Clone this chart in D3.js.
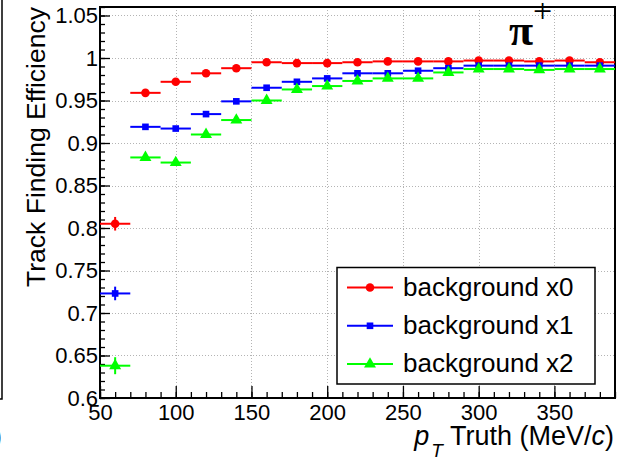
<!DOCTYPE html>
<html>
<head>
<meta charset="utf-8">
<script src="https://cdn.jsdelivr.net/npm/d3@7"></script>
<style>
  html, body { margin: 0; padding: 0; background: #fff; }
  svg { display: block; }
  text { font-family: "Liberation Sans", Arial, Helvetica, sans-serif; fill: #000; }
</style>
</head>
<body>
<svg id="chart" width="621" height="460"></svg>
<script>
// pT bins (MeV/c): centres and full bin width
const ptCenters = [60, 80, 100, 120, 140, 160, 180, 200, 220, 240, 260, 280, 300, 320, 340, 360, 380];
const ptBinWidth = 20;

// Track finding efficiency per bin for each background level
const effBkg0 = [0.805, 0.959, 0.972, 0.982, 0.988, 0.995, 0.994, 0.994, 0.995, 0.996, 0.996, 0.996, 0.997, 0.997, 0.996, 0.997, 0.995];
const effBkg1 = [0.723, 0.919, 0.917, 0.934, 0.949, 0.965, 0.972, 0.976, 0.982, 0.982, 0.985, 0.988, 0.991, 0.991, 0.991, 0.991, 0.991];
const effBkg2 = [0.638, 0.883, 0.877, 0.910, 0.927, 0.950, 0.963, 0.967, 0.973, 0.976, 0.976, 0.983, 0.987, 0.987, 0.986, 0.987, 0.987];

// Statistical uncertainties on the efficiencies
const errBkg0 = [0.008, 0.003, 0.0025, 0.002, 0.0015, 0.001, 0.001, 0.001, 0.001, 0.001, 0.001, 0.001, 0.001, 0.001, 0.001, 0.001, 0.001];
const errBkg1 = [0.008, 0.003, 0.003, 0.0025, 0.002, 0.0015, 0.0015, 0.0015, 0.001, 0.001, 0.001, 0.001, 0.001, 0.001, 0.001, 0.001, 0.001];
const errBkg2 = [0.010, 0.004, 0.004, 0.003, 0.003, 0.002, 0.002, 0.0015, 0.0015, 0.0015, 0.0015, 0.001, 0.001, 0.001, 0.001, 0.001, 0.001];

const seriesNames = ["background x0", "background x1", "background x2"];

// Axis ticks
const xTickValues = [50, 100, 150, 200, 250, 300, 350];
const yTickValues = [0.6, 0.65, 0.7, 0.75, 0.8, 0.85, 0.9, 0.95, 1.0, 1.05];
const yTickLabels = ["0.6", "0.65", "0.7", "0.75", "0.8", "0.85", "0.9", "0.95", "1", "1.05"];

const xDomain = [50, 390];
const yDomain = [0.6, 1.06];

const series = [
  { name: seriesNames[0], eff: effBkg0, err: errBkg0, color: "#ff0000", symbol: d3.symbolCircle, size: 58 },
  { name: seriesNames[1], eff: effBkg1, err: errBkg1, color: "#0000ff", symbol: d3.symbolSquare, size: 44 },
  { name: seriesNames[2], eff: effBkg2, err: errBkg2, color: "#00ff00", symbol: d3.symbolTriangle, size: 62 }
];

const svg = d3.select("#chart");
const frame = { left: 100, right: 615, top: 7, bottom: 398 };

const x = d3.scaleLinear().domain(xDomain).range([frame.left, frame.right]);
const y = d3.scaleLinear().domain(yDomain).range([frame.bottom, frame.top]);

svg.append("rect").attr("width", 621).attr("height", 460).attr("fill", "#fff");

// edge of the neighbouring pad on the left
svg.append("path")
  .attr("d", `M2,0 V399 H0`)
  .attr("fill", "none").attr("stroke", "#000").attr("stroke-width", 1.5);
svg.append("text").attr("x", -7).attr("y", 445)
  .style("font-size", "27px").text(")");

// dotted grid
const grid = svg.append("g").attr("stroke", "#b4b4b4").attr("stroke-width", 1).attr("stroke-dasharray", "1,2");
grid.selectAll("line.gx").data(xTickValues.filter(v => v > xDomain[0]))
  .join("line").attr("class", "gx")
  .attr("x1", d => Math.round(x(d)) + 0.5).attr("x2", d => Math.round(x(d)) + 0.5)
  .attr("y1", frame.top).attr("y2", frame.bottom);
grid.selectAll("line.gy").data(yTickValues.filter(v => v > yDomain[0]))
  .join("line").attr("class", "gy")
  .attr("x1", frame.left).attr("x2", frame.right)
  .attr("y1", d => Math.round(y(d)) + 0.5).attr("y2", d => Math.round(y(d)) + 0.5);

// minor ticks
const xMinor = d3.range(50, 391, 10);
const yMinor = d3.range(0, 47).map(i => 0.6 + i * 0.01);

svg.append("g").attr("transform", `translate(0,${frame.bottom})`)
  .call(d3.axisBottom(x).tickValues(xMinor).tickFormat("").tickSizeInner(-6).tickSizeOuter(0))
  .call(g => g.select(".domain").remove())
  .call(g => g.selectAll("line").attr("stroke-width", 1.3));
svg.append("g").attr("transform", `translate(${frame.left},0)`)
  .call(d3.axisLeft(y).tickValues(yMinor).tickFormat("").tickSizeInner(-5).tickSizeOuter(0))
  .call(g => g.select(".domain").remove())
  .call(g => g.selectAll("line").attr("stroke-width", 1.3));

// major ticks with labels
svg.append("g").attr("transform", `translate(0,${frame.bottom})`)
  .call(d3.axisBottom(x).tickValues(xTickValues).tickFormat(d3.format("d")).tickSizeInner(-12).tickSizeOuter(0).tickPadding(6))
  .call(g => g.select(".domain").remove())
  .call(g => g.selectAll("line").attr("stroke-width", 1.3))
  .call(g => g.selectAll("text").attr("fill", "#000").style("font-size", "22px")
    .style("font-family", '"Liberation Sans", Arial, sans-serif'));

svg.append("g").attr("transform", `translate(${frame.left},0)`)
  .call(d3.axisLeft(y).tickValues(yTickValues).tickFormat((d, i) => yTickLabels[i]).tickSizeInner(-10).tickSizeOuter(0).tickPadding(2))
  .call(g => g.select(".domain").remove())
  .call(g => g.selectAll("line").attr("stroke-width", 1.3))
  .call(g => g.selectAll("text").attr("fill", "#000").style("font-size", "22px")
    .style("font-family", '"Liberation Sans", Arial, sans-serif'));

// frame
svg.append("rect")
  .attr("x", frame.left).attr("y", frame.top)
  .attr("width", frame.right - frame.left).attr("height", frame.bottom - frame.top)
  .attr("fill", "none").attr("stroke", "#000").attr("stroke-width", 2);

// data: error bars + markers
const plot = svg.append("g");
series.forEach(s => {
  const g = plot.append("g");
  const pts = ptCenters.map((pt, i) => ({ pt, eff: s.eff[i], err: s.err[i] }));
  g.selectAll("line.h").data(pts).join("line").attr("class", "h")
    .attr("x1", d => x(d.pt - ptBinWidth / 2)).attr("x2", d => x(Math.min(d.pt + ptBinWidth / 2, xDomain[1])))
    .attr("y1", d => y(d.eff)).attr("y2", d => y(d.eff))
    .attr("stroke", s.color).attr("stroke-width", 2);
  g.selectAll("line.v").data(pts).join("line").attr("class", "v")
    .attr("x1", d => x(d.pt)).attr("x2", d => x(d.pt))
    .attr("y1", d => y(d.eff - d.err)).attr("y2", d => y(d.eff + d.err))
    .attr("stroke", s.color).attr("stroke-width", 2);
  g.selectAll("path.m").data(pts).join("path").attr("class", "m")
    .attr("d", d3.symbol(s.symbol, s.size))
    .attr("transform", d => `translate(${x(d.pt)},${y(d.eff)})`)
    .attr("fill", s.color);
});

// legend
const legend = svg.append("g");
legend.append("rect")
  .attr("x", 337).attr("y", 267.5).attr("width", 258).attr("height", 116.5)
  .attr("fill", "#fff").attr("stroke", "#000").attr("stroke-width", 1.5);
series.forEach((s, i) => {
  const cy = 287.5 + i * 38.3;
  legend.append("line").attr("x1", 347).attr("x2", 393).attr("y1", cy).attr("y2", cy)
    .attr("stroke", s.color).attr("stroke-width", 2);
  legend.append("path").attr("d", d3.symbol(s.symbol, s.size))
    .attr("transform", `translate(370,${cy})`).attr("fill", s.color);
  legend.append("text").attr("x", 403).attr("y", cy + 8)
    .style("font-size", "26px").text(s.name);
});

// particle label
const pl = svg.append("text").attr("x", 509).attr("y", 45)
  .style("font-family", '"Liberation Serif", "Times New Roman", serif');
pl.append("tspan").style("font-size", "44px").style("font-weight", "bold").text("π");
pl.append("tspan").attr("y", 22).attr("dx", 0).style("font-size", "34px").text("+");

// axis titles
const xt = svg.append("text").attr("x", 614).attr("y", 445).attr("text-anchor", "end").style("font-size", "27px");
xt.append("tspan").style("font-style", "italic").text("p");
xt.append("tspan").attr("dy", 12).attr("dx", 2).style("font-size", "19px").style("font-style", "italic").text("T");
xt.append("tspan").attr("dy", -12).text(" Truth (MeV/");
xt.append("tspan").style("font-style", "italic").text("c");
xt.append("tspan").text(")");

svg.append("text")
  .attr("transform", "translate(45,147) rotate(-90)")
  .attr("text-anchor", "middle")
  .style("font-size", "26.5px")
  .text("Track Finding Efficiency");
</script>
</body>
</html>
